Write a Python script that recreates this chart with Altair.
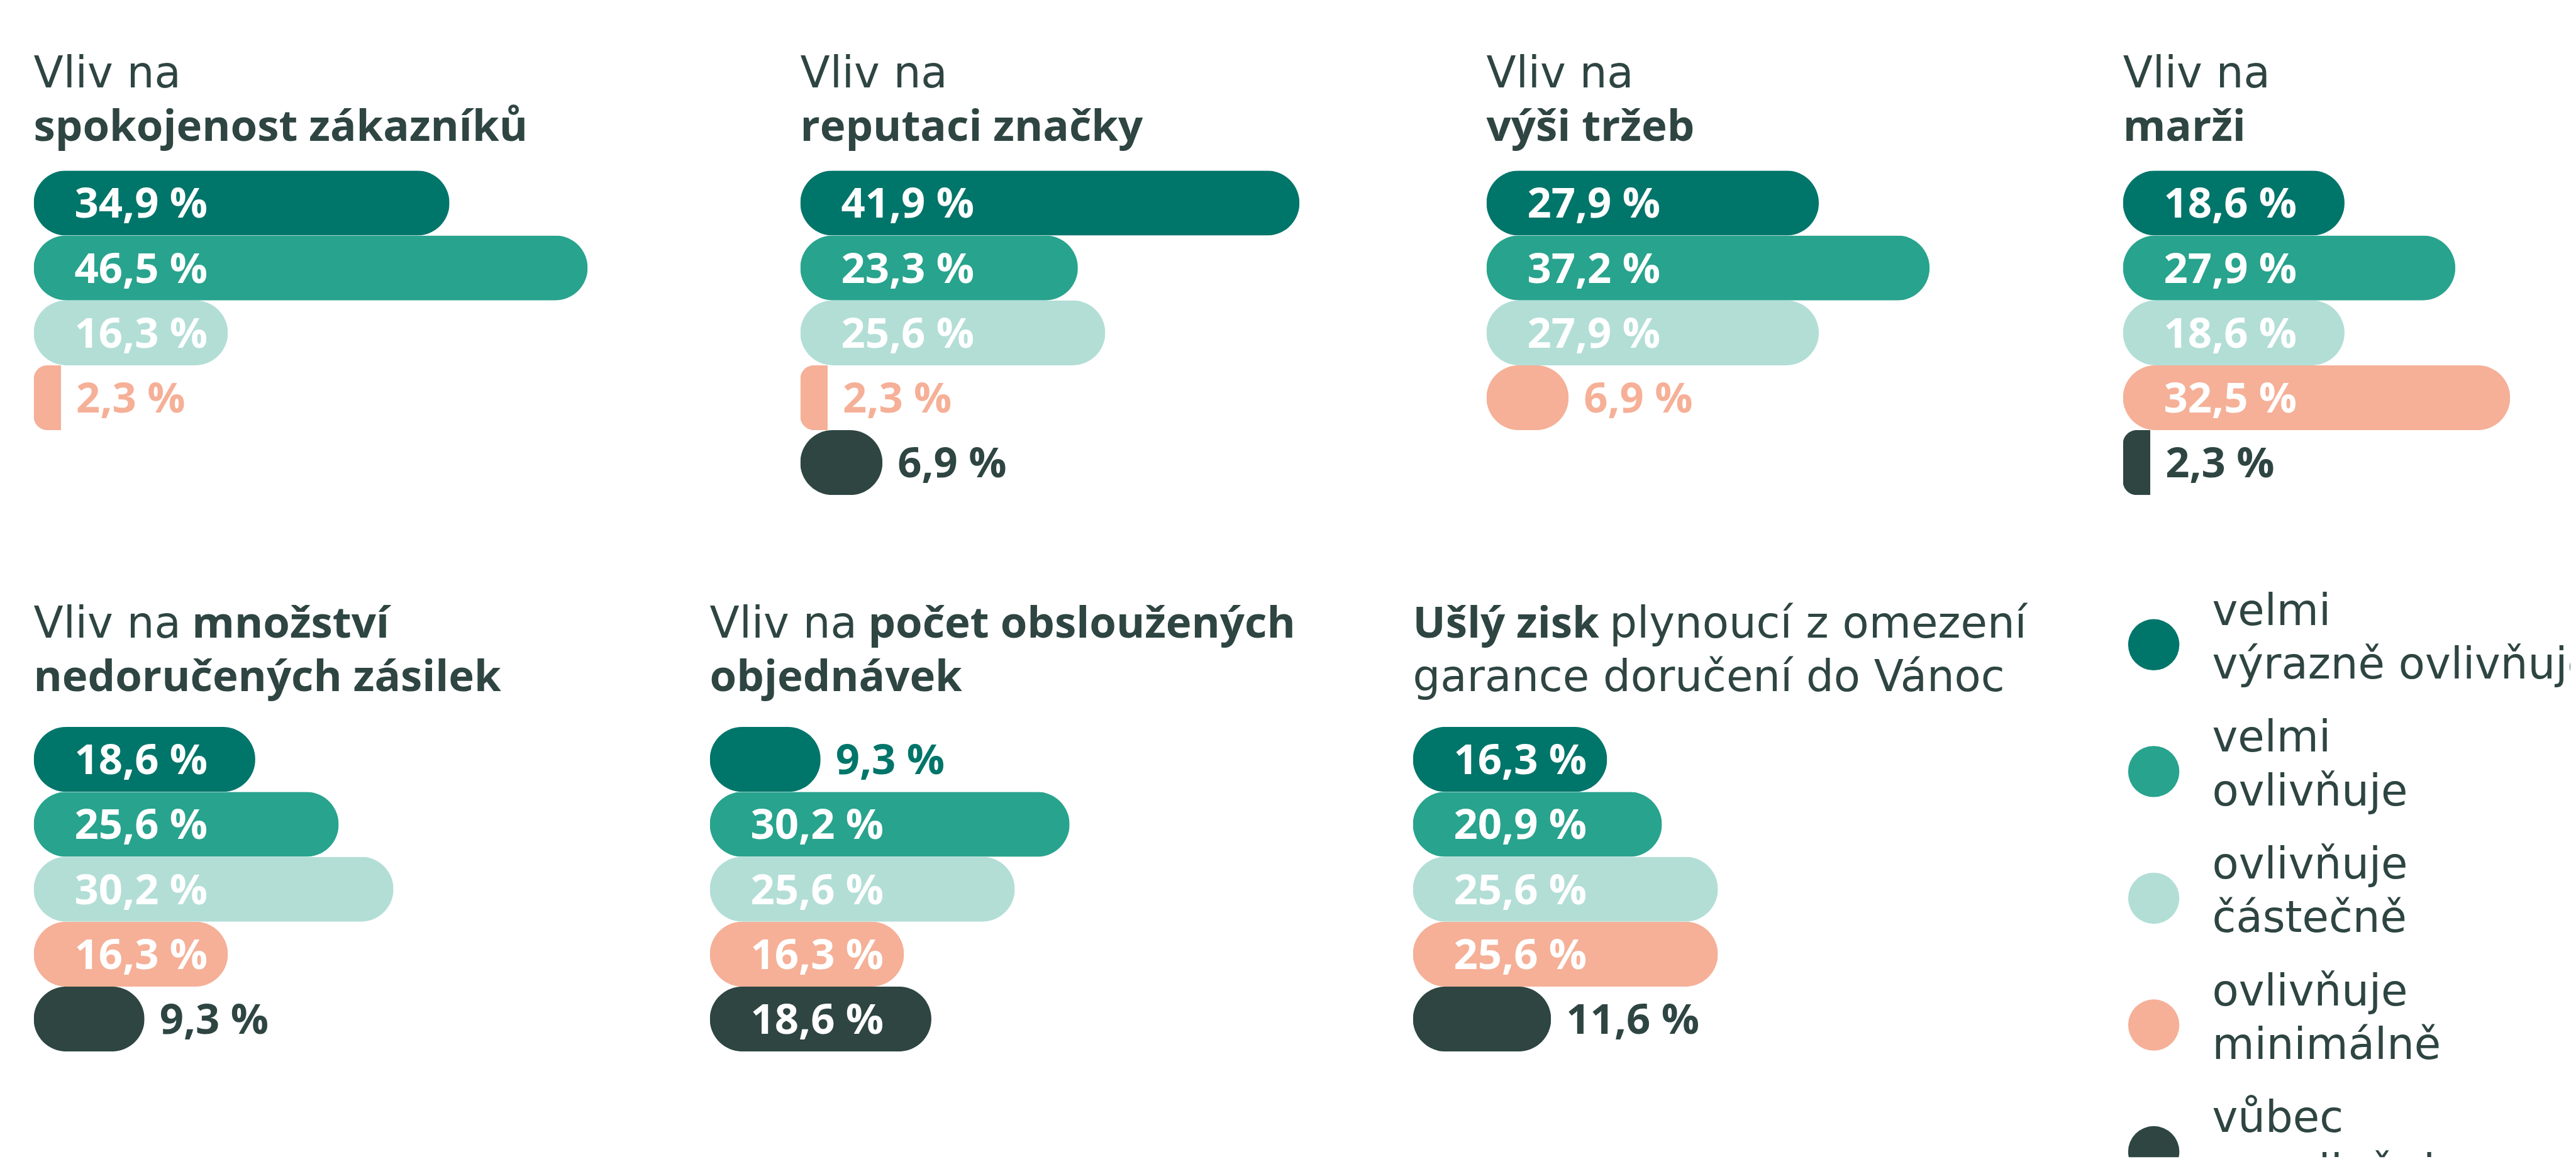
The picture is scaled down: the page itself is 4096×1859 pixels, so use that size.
import altair as alt
import pandas as pd

# ---------------- data ----------------
CATEGORIES = ["velmi výrazně ovlivňuje", "velmi ovlivňuje", "ovlivňuje částečně",
              "ovlivňuje minimálně", "vůbec neovlivňuje"]
LEGEND_LABELS = ["velmi\nvýrazně ovlivňuje", "velmi\novlivňuje", "ovlivňuje\nčástečně",
                 "ovlivňuje\nminimálně", "vůbec\nneovlivňuje"]
COLORS = ["#00756A", "#28A38D", "#B2DED6", "#F5B097", "#2E4542"]

spokojenost = [34.9, 46.5, 16.3, 2.3, None]
reputace = [41.9, 23.3, 25.6, 2.3, 6.9]
trzby = [27.9, 37.2, 27.9, 6.9, None]
marze = [18.6, 27.9, 18.6, 32.5, 2.3]
zasilky = [18.6, 25.6, 30.2, 16.3, 9.3]
objednavky = [9.3, 30.2, 25.6, 16.3, 18.6]
zisk = [16.3, 20.9, 25.6, 25.6, 11.6]

# ---------------- style / layout ----------------
TEXT = "#2E4542"
REG = "DejaVu Sans"
BOLD = "Open Sans"
PX = 18.96            # pixels per percentage point
TOP_W = [1219.1, 1091.3, 1012.6, 712.4]
BOT_W = [1075.4, 1118.5, 1113.5, 728.0]
TOP_H, BOT_H = 892, 938
TOP_BAND = [261.7, 778.2]
BOT_BAND = [253.3, 769.8]
TOP_TY = [129.4, 214.8]
BOT_TY = [111.0, 196.4]
TSIZE = 69
LSIZE = 67

color_scale = alt.Scale(domain=CATEGORIES, range=COLORS)


def txt(text, x, y, bold=False, size=TSIZE):
    return alt.Chart(pd.DataFrame({"t": [text]})).mark_text(
        align="left", baseline="alphabetic",
        font=BOLD if bold else REG, fontWeight="bold" if bold else "normal",
        fontSize=size, color=TEXT,
    ).encode(text="t:N", x=alt.value(x), y=alt.value(y))


def bar_panel(values, width, height, band, titles):
    df = pd.DataFrame({"kategorie": CATEGORIES, "hodnota": values}).dropna()
    df["popisek"] = df["hodnota"].map(lambda v: f"{v:.1f}".replace(".", ",") + " %")
    bw = (band[1] - band[0]) / len(CATEGORIES)
    xs = alt.Scale(domain=[0, width / PX], nice=False, zero=True)
    x = alt.X("hodnota:Q", scale=xs, axis=None)
    y = alt.Y("kategorie:N", scale=alt.Scale(domain=CATEGORIES, range=band,
                                             paddingInner=0, paddingOuter=0), axis=None)
    color = alt.Color("kategorie:N", scale=color_scale, legend=None)
    base = alt.Chart(df).encode(y=y)
    big = base.transform_filter(f"datum.hodnota * {PX} >= {bw}").mark_bar(
        cornerRadius=200).encode(x=x, color=color)
    small = base.transform_filter(f"datum.hodnota * {PX} < {bw}").mark_bar(
        cornerRadiusTopLeft=200, cornerRadiusBottomLeft=200).encode(x=x, color=color)
    inside = base.transform_filter("datum.hodnota >= 14").transform_calculate(
        nula="0").mark_text(
        align="left", baseline="alphabetic", dx=65, dy=23.5, font=BOLD,
        fontWeight="bold", fontSize=LSIZE, color="white",
    ).encode(x=alt.X("nula:Q", scale=xs, axis=None), text="popisek:N")
    outside = base.transform_filter("datum.hodnota < 14").mark_text(
        align="left", baseline="alphabetic", dx=24, dy=23.5, font=BOLD,
        fontWeight="bold", fontSize=LSIZE,
    ).encode(x=x, text="popisek:N", color=color)
    return alt.layer(big, small, inside, outside, *titles).properties(
        width=width, height=height)


p1 = bar_panel(spokojenost, TOP_W[0], TOP_H, TOP_BAND, [
    txt("Vliv na", 0, TOP_TY[0]), txt("spokojenost zákazníků", 0, TOP_TY[1], True)])
p2 = bar_panel(reputace, TOP_W[1], TOP_H, TOP_BAND, [
    txt("Vliv na", 0, TOP_TY[0]), txt("reputaci značky", 0, TOP_TY[1], True)])
p3 = bar_panel(trzby, TOP_W[2], TOP_H, TOP_BAND, [
    txt("Vliv na", 0, TOP_TY[0]), txt("výši tržeb", 0, TOP_TY[1], True)])
p4 = bar_panel(marze, TOP_W[3], TOP_H, TOP_BAND, [
    txt("Vliv na", 0, TOP_TY[0]), txt("marži", 0, TOP_TY[1], True)])

p5 = bar_panel(zasilky, BOT_W[0], BOT_H, BOT_BAND, [
    txt("Vliv na", 0, BOT_TY[0]), txt("množství", 252, BOT_TY[0], True),
    txt("nedoručených zásilek", 0, BOT_TY[1], True)])
p6 = bar_panel(objednavky, BOT_W[1], BOT_H, BOT_BAND, [
    txt("Vliv na", 0, BOT_TY[0]), txt("počet obsloužených", 252, BOT_TY[0], True),
    txt("objednávek", 0, BOT_TY[1], True)])
p7 = bar_panel(zisk, BOT_W[2], BOT_H, BOT_BAND, [
    txt("Ušlý zisk", 0, BOT_TY[0], True), txt("plynoucí z omezení", 313, BOT_TY[0]),
    txt("garance doručení do Vánoc", 0, BOT_TY[1])])

# legend panel
leg_df = pd.DataFrame({"kategorie": CATEGORIES, "popis": LEGEND_LABELS})
LEG_PITCH = 201.75
LEG_C0 = 122.4
leg_y = alt.Y("kategorie:N", scale=alt.Scale(
    domain=CATEGORIES, range=[LEG_C0 - LEG_PITCH / 2, LEG_C0 + 4.5 * LEG_PITCH],
    paddingInner=0, paddingOuter=0), axis=None)
dots = alt.Chart(leg_df).mark_circle(size=6648, opacity=1, clip=True).encode(
    x=alt.value(65), y=leg_y, color=alt.Color("kategorie:N", scale=color_scale, legend=None))
leg_text = alt.Chart(leg_df).mark_text(
    align="left", baseline="alphabetic", dy=-31.5, lineBreak="\n", lineHeight=85.4,
    font=REG, fontSize=TSIZE, color=TEXT, clip=True,
).encode(x=alt.value(158), y=leg_y, text="popis:N")
legend_panel = alt.layer(dots, leg_text).properties(width=BOT_W[3], height=BOT_H)

top = alt.hconcat(p1, p2, p3, p4, spacing=0, bounds="flush")
bottom = alt.hconcat(p5, p6, p7, legend_panel, spacing=0, bounds="flush")

chart = alt.vconcat(top, bottom, spacing=0).properties(
    padding={"left": 44.6, "top": 0, "right": 0, "bottom": 0},
    background="white",
).configure_view(stroke="transparent").resolve_scale(color="shared")

chart.save("out.html", embed_options={"renderer": "svg", "actions": False})
